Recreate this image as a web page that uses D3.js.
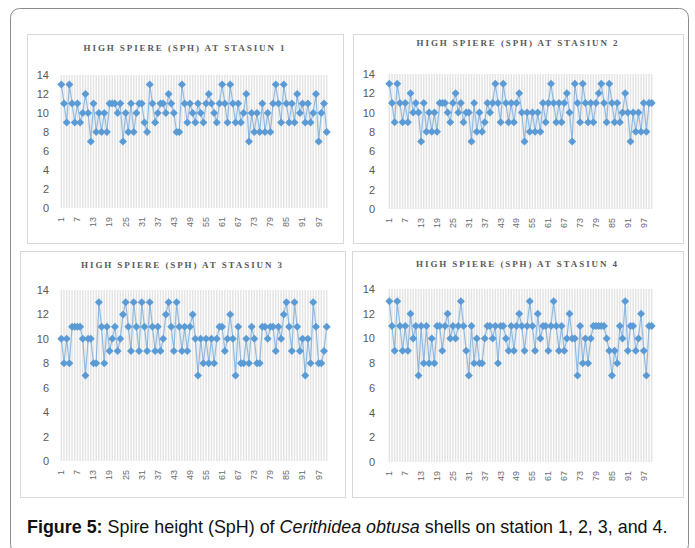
<!DOCTYPE html>
<html>
<head>
<meta charset="utf-8">
<script src="https://cdn.jsdelivr.net/npm/d3@7"></script>
<style>
	body { margin: 0; background: #fff; }
	svg { display: block; }
</style>
</head>
<body>
<svg id="chart"></svg>
<script>
const width = 695,
	height = 548;

// sample numbers 1..100 on the x axis
const categories = d3.range(1, 101);
const xTickLabels = [ '1', '7', '13', '19', '25', '31', '37', '43', '49', '55', '61', '67', '73', '79', '85', '91', '97' ];
const yTickValues = [ 0, 2, 4, 6, 8, 10, 12, 14 ];

const titles = [
	'HIGH SPIERE (SPH) AT STASIUN 1',
	'HIGH SPIERE (SPH) AT STASIUN 2',
	'HIGH SPIERE (SPH) AT STASIUN 3',
	'HIGH SPIERE (SPH) AT STASIUN 4'
];

const station1 = [
	13, 11, 9, 13, 11, 9, 11, 9, 10, 12,
	10, 7, 11, 8, 10, 8, 10, 8, 11, 11,
	11, 10, 11, 7, 10, 8, 11, 8, 10, 11,
	11, 9, 8, 13, 11, 9, 10, 11, 11, 10,
	12, 11, 10, 8, 8, 13, 11, 9, 11, 10,
	9, 11, 10, 9, 11, 12, 11, 10, 9, 11,
	13, 11, 9, 13, 11, 9, 11, 9, 10, 12,
	7, 10, 8, 10, 8, 11, 8, 10, 8, 11,
	13, 11, 9, 13, 11, 9, 11, 9, 12, 10,
	11, 9, 11, 9, 10, 12, 7, 10, 11, 8
];
const station2 = [
	13, 11, 9, 13, 11, 9, 11, 9, 12, 10,
	11, 10, 7, 11, 8, 10, 8, 10, 8, 11,
	11, 11, 10, 9, 11, 12, 10, 11, 9, 10,
	10, 7, 11, 8, 10, 8, 9, 11, 10, 11,
	13, 11, 9, 13, 11, 9, 11, 9, 11, 12,
	10, 7, 10, 8, 10, 8, 10, 8, 11, 9,
	11, 13, 11, 9, 11, 9, 11, 12, 10, 7,
	13, 11, 9, 13, 11, 9, 11, 9, 11, 12,
	13, 11, 9, 13, 11, 9, 11, 9, 10, 12,
	10, 7, 10, 8, 10, 8, 11, 8, 11, 11
];
const station3 = [
	10, 8, 10, 8, 11, 11, 11, 11, 10, 7,
	10, 10, 8, 8, 13, 11, 8, 11, 9, 10,
	11, 9, 10, 12, 13, 11, 9, 13, 11, 9,
	13, 11, 9, 13, 11, 9, 11, 9, 10, 12,
	13, 11, 9, 13, 11, 9, 11, 9, 11, 12,
	10, 7, 10, 8, 10, 8, 10, 8, 10, 11,
	11, 9, 10, 12, 10, 7, 11, 8, 8, 10,
	8, 11, 10, 8, 8, 11, 11, 10, 11, 11,
	9, 11, 10, 12, 13, 11, 9, 13, 11, 9,
	10, 7, 10, 8, 13, 11, 8, 8, 9, 11
];
const station4 = [
	13, 11, 9, 13, 11, 9, 11, 9, 12, 10,
	11, 7, 11, 8, 11, 8, 10, 8, 11, 11,
	9, 11, 12, 10, 11, 10, 11, 13, 11, 9,
	7, 11, 8, 10, 8, 8, 10, 11, 11, 10,
	11, 8, 11, 11, 10, 9, 11, 9, 11, 12,
	11, 9, 11, 13, 11, 9, 12, 10, 11, 11,
	9, 11, 13, 11, 9, 11, 9, 10, 12, 10,
	10, 7, 11, 8, 10, 8, 10, 11, 11, 11,
	11, 11, 10, 9, 7, 9, 8, 11, 10, 13,
	9, 11, 11, 9, 10, 12, 9, 7, 11, 11
];

const panels = [
	{ data: station1, box: [ 27, 34, 343, 243 ], plot: [ 60, 75, 328, 208 ], titleY: 51, yLabelX: 49 },
	{ data: station2, box: [ 353, 34, 683, 243 ], plot: [ 388, 74, 653, 209 ], titleY: 46, yLabelX: 375 },
	{ data: station3, box: [ 20, 251, 345, 497 ], plot: [ 60, 290, 328, 461 ], titleY: 268, yLabelX: 49 },
	{ data: station4, box: [ 352, 251, 683, 497 ], plot: [ 388, 289, 653, 462 ], titleY: 267, yLabelX: 375 }
];

const svg = d3.select('#chart').attr('width', width).attr('height', height);

// outer frame
svg
	.append('rect')
	.attr('x', 10.5)
	.attr('y', 8.5)
	.attr('width', 678)
	.attr('height', 545)
	.attr('rx', 9)
	.attr('fill', '#fff')
	.attr('stroke', '#8c8c8c');

const blue = '#5b9bd5';
const diamond = d3.symbol(d3.symbolSquare, 32);

panels.forEach((p, k) => {
	const g = svg.append('g');
	const [ bx0, by0, bx1, by1 ] = p.box;
	const [ px0, py0, px1, py1 ] = p.plot;

	g
		.append('rect')
		.attr('x', bx0 + 0.5)
		.attr('y', by0 + 0.5)
		.attr('width', bx1 - bx0)
		.attr('height', by1 - by0)
		.attr('fill', '#fff')
		.attr('stroke', '#d9d9d9');

	g
		.append('text')
		.attr('x', (bx0 + bx1) / 2)
		.attr('y', p.titleY)
		.attr('text-anchor', 'middle')
		.attr('font-family', 'Liberation Serif, DejaVu Serif, serif')
		.attr('font-size', '9px')
		.attr('font-weight', 'bold')
		.attr('letter-spacing', '1.9px')
		.attr('fill', '#5a5a5a')
		.text(titles[k]);

	let xScale = d3.scaleBand().domain(categories).range([ px0, px1 ]).padding(0);
	let yScale = d3.scaleLinear().domain([ 0, 14 ]).range([ py1, py0 ]);
	let cx = (d) => xScale(d) + xScale.bandwidth() / 2;

	// vertical gridlines, one per sample
	g
		.selectAll('line.grid')
		.data(categories)
		.enter()
		.append('line')
		.attr('class', 'grid')
		.attr('x1', cx)
		.attr('x2', cx)
		.attr('y1', yScale(14))
		.attr('y2', yScale(0))
		.attr('stroke', '#e4e4e4')
		.attr('stroke-width', 1.5);

	let yAxis = d3.axisLeft(yScale).tickValues(yTickValues).tickSize(0).tickPadding(0);
	g
		.append('g')
		.attr('transform', 'translate(' + p.yLabelX + ',0)')
		.call(yAxis)
		.call((a) => a.select('.domain').remove())
		.selectAll('text')
		.attr('font-family', 'Liberation Sans, Arial, sans-serif')
		.attr('font-size', '11px')
		.attr('fill', '#595959');

	let xAxis = d3
		.axisBottom(xScale)
		.tickValues(xTickLabels.map((d) => +d))
		.tickSize(0)
		.tickPadding(0);
	g
		.append('g')
		.attr('transform', 'translate(0,' + (py1 + 9) + ')')
		.call(xAxis)
		.call((a) => a.select('.domain').remove())
		.selectAll('text')
		.attr('font-family', 'Liberation Sans, Arial, sans-serif')
		.attr('font-size', '9px')
		.attr('fill', '#6a6a6a')
		.attr('text-anchor', 'end')
		.attr('dy', '0.32em')
		.attr('y', 0)
		.attr('transform', 'rotate(-90)');

	let points = categories.map((c, i) => [ c, p.data[i] ]);
	let line = d3.line().x((d) => cx(d[0])).y((d) => yScale(d[1]));

	g
		.append('path')
		.datum(points)
		.attr('d', line)
		.attr('fill', 'none')
		.attr('stroke', blue)
		.attr('stroke-opacity', 0.65)
		.attr('stroke-width', 1.2);

	g
		.selectAll('path.marker')
		.data(points)
		.enter()
		.append('path')
		.attr('class', 'marker')
		.attr('d', diamond)
		.attr('transform', (d) => 'translate(' + cx(d[0]) + ',' + yScale(d[1]) + ') rotate(45)')
		.attr('fill', blue);
});

// caption
const caption = svg
	.append('text')
	.attr('x', 27)
	.attr('y', 533)
	.attr('font-family', 'Liberation Sans, Arial, sans-serif')
	.attr('font-size', '17.9px')
	.attr('fill', '#111');
caption.append('tspan').attr('font-weight', 'bold').text('Figure 5:');
caption.append('tspan').text(' Spire height (SpH) of ');
caption.append('tspan').attr('font-style', 'italic').text('Cerithidea obtusa');
caption.append('tspan').text(' shells on station 1, 2, 3, and 4.');
</script>
</body>
</html>
